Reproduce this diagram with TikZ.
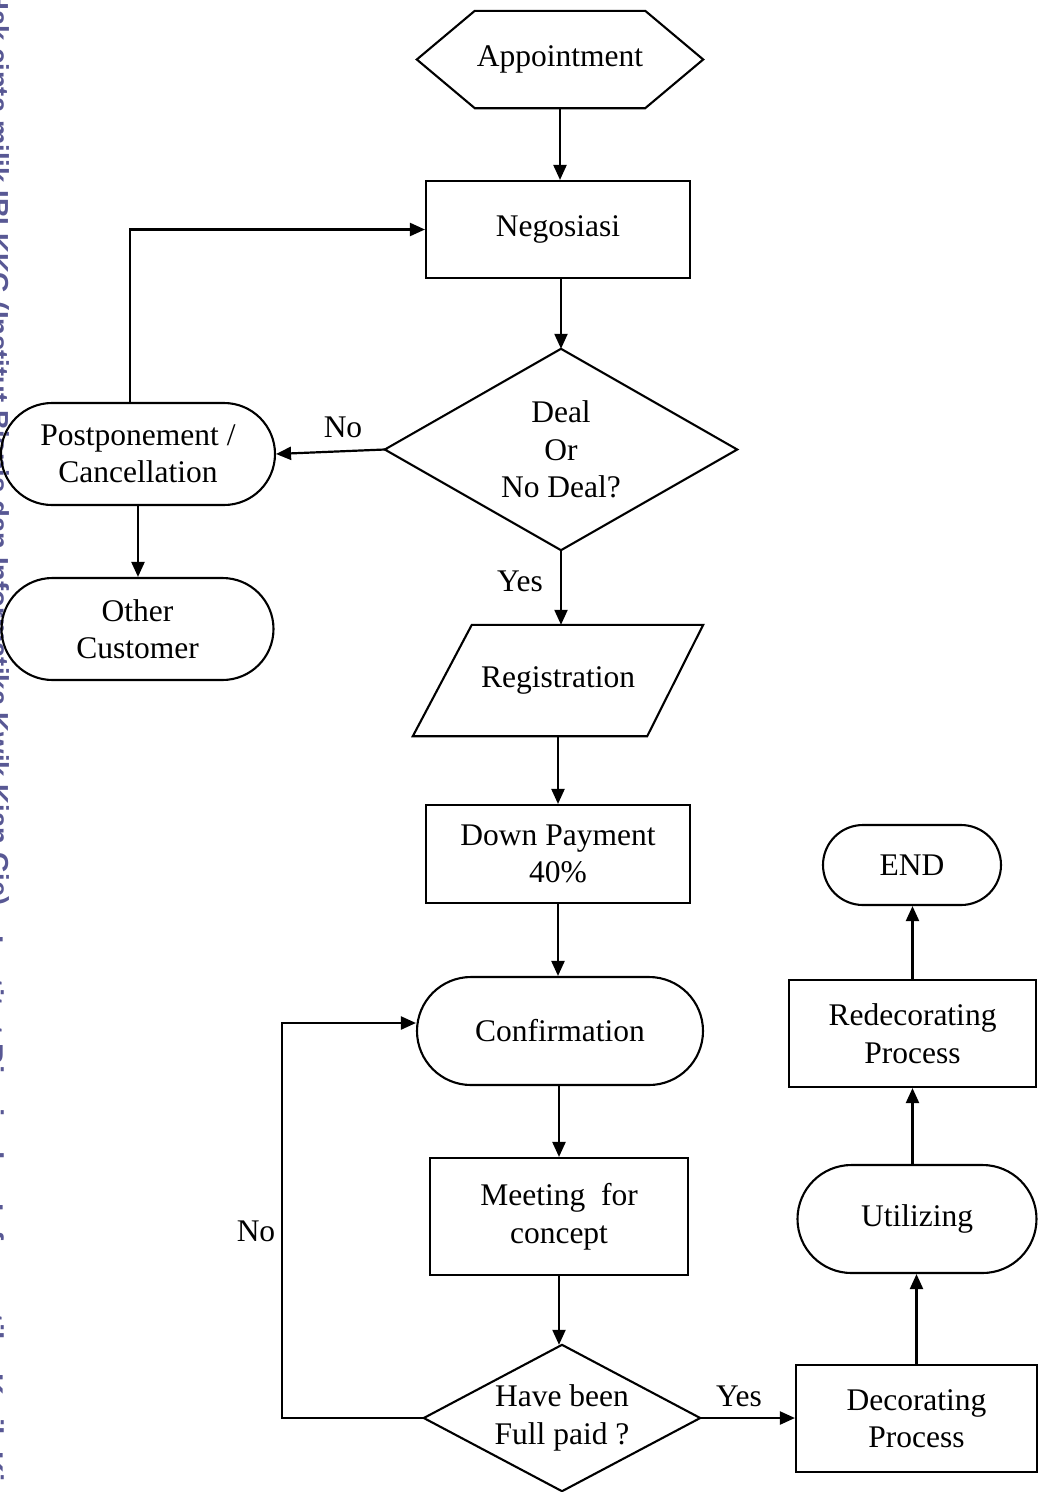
\documentclass[tikz,border=0pt]{standalone}
\usepackage{fontspec}
\setmainfont{Liberation Serif}
\newfontfamily\wmfont{Liberation Sans}
\usetikzlibrary{arrows.meta}
\definecolor{wm}{RGB}{88,88,148}
\tikzset{
  every node/.style={font=\fontsize{31.5}{37.5}\selectfont, align=center},
  plainbox/.style={draw, line width=2.1pt, rectangle, inner sep=4pt},
  hidden/.style={rectangle, inner sep=4pt},
  outline/.style={draw, line width=2.1pt, line join=miter},
  arr/.style={draw, line width=2.2pt, -{Triangle[length=15pt,width=13pt]}},
  lbl/.style={inner sep=0pt},
  wmtext/.style={text=wm, inner sep=0pt, rotate=-90, anchor=base west, align=left}
}
\begin{document}
\begin{tikzpicture}[x=1pt, y=-1pt]
\useasboundingbox (0,0) rectangle (1039,1492);
\clip (0,0) rectangle (1039,1492);
\fill[white] (0,0) rectangle (1039,1492);

% watermark
\node[wmtext, font=\wmfont\bfseries\fontsize{27.5}{27.5}\selectfont] (wm1) at (-10,-10) {Hak cipta milik IBI KKG (Institut Bisnis dan Informatika Kwik Kian Gie)};
\node[wmtext, font=\wmfont\bfseries\fontsize{30}{30}\selectfont] (wm2) at (-17,935) {Institut Bisnis dan Informatika Kwik Kian Gie};

% nodes
\node[hidden, minimum width=286pt, minimum height=97pt] (app) at (560,59.5) {Appointment};
\draw[outline] (app.west) -- ([xshift=58pt]app.north west) -- ([xshift=-58pt]app.north east) -- (app.east) -- ([xshift=-58pt]app.south east) -- ([xshift=58pt]app.south west) -- cycle;

\node[plainbox, minimum width=264pt, minimum height=97pt] (neg) at (558,229.5) {Negosiasi};

\node[hidden, minimum width=352pt, minimum height=201pt] (deal) at (561,449.5) {Deal\\Or\\No Deal?};
\draw[outline] (deal.west) -- (deal.north) -- (deal.east) -- (deal.south) -- cycle;

\node[plainbox, rounded corners=51pt, minimum width=274pt, minimum height=102pt] (post) at (138,454) {Postponement /\\Cancellation};

\node[plainbox, rounded corners=51pt, minimum width=272pt, minimum height=102pt] (other) at (137.5,629) {Other\\Customer};

\node[hidden, minimum width=290pt, minimum height=111pt] (reg) at (558,680.5) {Registration};
\draw[outline] ([xshift=59pt]reg.north west) -- (reg.north east) -- ([xshift=-56pt]reg.south east) -- (reg.south west) -- cycle;

\node[plainbox, minimum width=264pt, minimum height=98pt] (dp) at (558,854) {Down Payment\\40\%};

\node[plainbox, rounded corners=54pt, minimum width=286pt, minimum height=108pt] (conf) at (560,1031) {Confirmation};

\node[plainbox, minimum width=258pt, minimum height=117pt] (meet) at (559,1216.5) {Meeting~~for\\concept};

\node[hidden, minimum width=276pt, minimum height=146pt] (paid) at (562,1418) {Have been\\Full paid ?};
\draw[outline] (paid.west) -- (paid.north) -- (paid.east) -- (paid.south) -- cycle;

\node[plainbox, minimum width=241pt, minimum height=107pt] (deco) at (916.5,1418.5) {Decorating\\Process};

\node[plainbox, rounded corners=54pt, minimum width=239pt, minimum height=108pt] (util) at (917,1219) {Utilizing};

\node[plainbox, minimum width=247pt, minimum height=107pt] (redec) at (912.5,1033.5) {Redecorating\\Process};

\node[plainbox, rounded corners=40pt, minimum width=178pt, minimum height=80pt] (endn) at (912,865) {END};

% labels
\node[lbl] (no1) at (343,427) {No};
\node[lbl] (yes1) at (520,581) {Yes};
\node[lbl] (no2) at (256,1231) {No};
\node[lbl] (yes2) at (739,1396) {Yes};

% connectors
\draw[arr] (app.south) -- (app.south |- neg.north);
\draw[arr] (deal.north |- neg.south) -- (deal.north);
\draw[arr] (deal.west) -- (post.east);
\draw[arr] (deal.south) -- (deal.south |- reg.north);
\draw[arr] ([xshift=-8pt]post.north) |- (neg.west);
\draw[arr] (post.south) -- (post.south |- other.north);
\draw[arr] (dp.north |- reg.south) -- (dp.north);
\draw[arr] (dp.south) -- (dp.south |- conf.north);
\draw[arr] (meet.north |- conf.south) -- (meet.north);
\draw[arr] (meet.south) -- (meet.south |- paid.north);
\coordinate (noc) at (282,1418);
\draw[arr] (paid.west) -- (noc) |- ([yshift=8pt]conf.west);
\draw[arr] (paid.east) -- (paid.east -| deco.west);
\draw[arr] (deco.north) -- (deco.north |- util.south);
\draw[arr] (redec.south |- util.north) -- (redec.south);
\draw[arr] (redec.north) -- (redec.north |- endn.south);
\end{tikzpicture}
\end{document}
